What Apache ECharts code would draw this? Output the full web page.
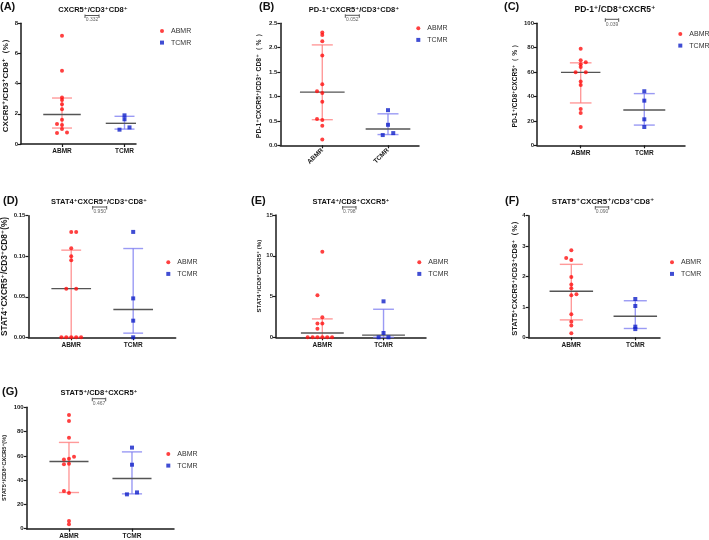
<!DOCTYPE html>
<html><head><meta charset="utf-8">
<script src="https://cdn.jsdelivr.net/npm/echarts@6/dist/echarts.min.js"></script>
<style>html,body{margin:0;padding:0;background:#fff}#c{width:709px;height:540px}</style>
</head><body><div id="c"></div>
<script>
// ---------------- data ----------------
const groups = ['ABMR', 'TCMR'];
const panelLetters = ['(A)', '(B)', '(C)', '(D)', '(E)', '(F)', '(G)'];
const titles = ['CXCR5⁺/CD3⁺CD8⁺', 'PD-1⁺CXCR5⁺/CD3⁺CD8⁺', 'PD-1⁺/CD8⁺CXCR5⁺',
  'STAT4⁺CXCR5⁺/CD3⁺CD8⁺', 'STAT4⁺/CD8⁺CXCR5⁺', 'STAT5⁺CXCR5⁺/CD3⁺CD8⁺', 'STAT5⁺/CD8⁺CXCR5⁺'];
const yNames = ['CXCR5⁺/CD3⁺CD8⁺（%）', 'PD-1⁺CXCR5⁺/CD3⁺ CD8⁺（ % ）', 'PD-1⁺/CD8⁺CXCR5⁺（ % ）',
  'STAT4⁺CXCR5⁺/CD3⁺CD8⁺(%)', 'STAT4⁺/CD8⁺CXCR5⁺ (%)', 'STAT5⁺CXCR5⁺/CD3⁺CD8⁺（%）', 'STAT5⁺/CD8⁺CXCR5⁺(%)'];
const pValues = ['0.332', '0.052', '0.039', '0.950', '0.798', '0.090', '0.467'];
const yMax = [8, 2.5, 100, 0.15, 15, 4, 100];
const yStep = [2, 0.5, 20, 0.05, 5, 1, 20];
const yDecimals = [0, 1, 0, 2, 0, 0, 0];

const abmrA = [7.18, 4.86, 3.09, 2.92, 2.63, 2.30, 1.61, 1.33, 1.26, 0.99, 0.73, 0.77];
const tcmrA = [1.90, 1.64, 1.10, 0.95];
const abmrB = [2.31, 2.26, 2.13, 1.84, 1.25, 1.11, 1.07, 0.89, 0.54, 0.52, 0.40, 0.12];
const tcmrB = [0.72, 0.42, 0.25, 0.21];
const abmrC = [79.2, 69.7, 68.0, 66.4, 64.2, 59.8, 59.8, 52.2, 49.5, 29.8, 26.5, 15.0];
const tcmrC = [44.3, 36.6, 21.3, 15.0];
const abmrD = [0.13, 0.13, 0.11, 0.10, 0.095, 0.06, 0.06, 0, 0, 0, 0, 0];
const tcmrD = [0.13, 0.048, 0.0205, 0];
const abmrE = [10.5, 5.15, 2.45, 1.68, 1.68, 1.06, 0, 0, 0, 0, 0, 0];
const tcmrE = [4.41, 0.53, 0, 0];
const abmrF = [2.86, 2.61, 2.54, 1.98, 1.74, 1.61, 1.42, 1.38, 0.76, 0.51, 0.39, 0.13];
const tcmrF = [1.26, 1.03, 0.35, 0.27];
const abmrG = [93.7, 88.7, 75.0, 59.3, 57.7, 57.1, 53.5, 53.0, 31.0, 29.4, 6.3, 3.6];
const tcmrG = [66.8, 52.7, 29.9, 28.3];

// horizontal scatter slot of each point (jitter column)
const abmrSlotA = [0, 0, 0, 0, 0, 0, 0, -1, 0, 0, -1, 1];
const tcmrSlotA = [0, 0, 1, -1];
const abmrSlotB = [0, 0, 0, 0, 0, -1, 0, 0, -1, 0, 0, 0];
const tcmrSlotB = [0, 0, 1, -1];
const abmrSlotC = [0, 0, 1, 0, 0, -1, 1, 0, 0, 0, 0, 0];
const tcmrSlotC = [0, 0, 0, 0];
const abmrSlotD = [0, 1, 0, 0, 0, -1, 1, -2, -1, 0, 1, 2];
const tcmrSlotD = [0, 0, 0, 0];
const abmrSlotE = [0, -1, 0, -1, 0, -1, -3, -2, -1, 0, 1, 2];
const tcmrSlotE = [0, 0, -1, 1];
const abmrSlotF = [0, -1, 0, 0, 0, 0, 1, 0, 0, 0, 0, 0];
const tcmrSlotF = [0, 0, 0, 0];
const abmrSlotG = [0, 0, 0, 1, 0, -1, 0, -1, -1, 0, 0, 0];
const tcmrSlotG = [0, 0, 1, -1];

const abmrAll = [abmrA, abmrB, abmrC, abmrD, abmrE, abmrF, abmrG];
const tcmrAll = [tcmrA, tcmrB, tcmrC, tcmrD, tcmrE, tcmrF, tcmrG];
const abmrSlots = [abmrSlotA, abmrSlotB, abmrSlotC, abmrSlotD, abmrSlotE, abmrSlotF, abmrSlotG];
const tcmrSlots = [tcmrSlotA, tcmrSlotB, tcmrSlotC, tcmrSlotD, tcmrSlotE, tcmrSlotF, tcmrSlotG];

// ---------------- layout ----------------
const LAYOUT = [
  {grid:[21,23.3,115,120.7], xr:[0.344,2.184], title:[93,9.5], tf:7.5, letter:[0,7], br:[85,99,15.5], pY:20, leg:[162,31], gap:11.7, nf:8, med:[0.30,0.30], cap:[0.16,0.16], rot:0},
  {grid:[280.3,23.3,138.7,122], xr:[0.361,2.472], title:[354,9.5], tf:7.5, letter:[259,7], br:[345.3,359.3,15.3], pY:20, leg:[418.3,28.3], gap:17.3, nf:6.8, med:[0.34,0.34], cap:[0.16,0.16], rot:45},
  {grid:[537,23.3,148,122], xr:[0.313,2.64], title:[615,10], tf:8.5, letter:[504,6.5], br:[605.3,618.7,19.3], pY:24.7, leg:[680.3,34], gap:18.3, nf:6.6, med:[0.31,0.33], cap:[0.17,0.165], rot:0},
  {grid:[26.7,215.7,149,121.6], xr:[0.309,2.686], title:[99,202], tf:7.5, letter:[3,200.7], br:[92.7,106.7,207], pY:211.7, leg:[168.3,262.3], gap:19.4, nf:8.3, med:[0.32,0.32], cap:[0.16,0.16], rot:0},
  {grid:[276,215,150,122.3], xr:[0.243,2.694], title:[351,202], tf:7.5, letter:[251,200.7], br:[342.7,356,207], pY:211.7, leg:[419.3,262.3], gap:13.3, nf:6, med:[0.35,0.35], cap:[0.17,0.17], rot:0},
  {grid:[528.7,215.7,131.3,121.6], xr:[0.334,2.386], title:[603,202], tf:8, letter:[505,201], br:[595.3,608.7,207], pY:212, leg:[672,262.3], gap:10, nf:7.5, med:[0.34,0.34], cap:[0.18,0.18], rot:0},
  {grid:[26.7,407.3,147.3,121.4], xr:[0.329,2.667], title:[99,393], tf:7.5, letter:[2,392], br:[92.3,105.7,398.7], pY:403.3, leg:[168.3,454], gap:19.4, nf:5.6, med:[0.31,0.31], cap:[0.16,0.16], rot:0}
];
const JIT = 0.08;
const FONT = 'Arial, "Liberation Sans", "DejaVu Sans", sans-serif';
const RED = '#ff1010', BLUE = '#1020c8';
const RED_L = 'rgba(255,120,120,0.75)', BLUE_L = 'rgba(120,120,240,0.75)';
const AX = '#1a1a1a';

function quant(s, p) {
  const n = s.length; let pos = p * (n + 1);
  if (pos < 1) pos = 1; if (pos > n) pos = n;
  const lo = Math.floor(pos), f = pos - lo;
  return lo >= n ? s[n - 1] : s[lo - 1] + f * (s[lo] - s[lo - 1]);
}
function stats(arr) {
  const s = arr.slice().sort((a, b) => a - b);
  return [quant(s, 0.5), quant(s, 0.25), quant(s, 0.75)];
}

const grid = [], xAxis = [], yAxis = [], series = [], legend = [], graphic = [];
LAYOUT.forEach((L, i) => {
  grid.push({left: L.grid[0], top: L.grid[1], width: L.grid[2], height: L.grid[3]});
  xAxis.push({
    gridIndex: i, type: 'value', min: L.xr[0], max: L.xr[1],
    axisLine: {show: true, onZero: false, lineStyle: {color: AX, width: 1.5}},
    axisTick: {show: true, customValues: [1, 2], length: 3, lineStyle: {color: AX, width: 1.2}},
    axisLabel: {customValues: [1, 2], formatter: v => groups[Math.round(v) - 1], fontSize: 6.5, fontWeight: 'bold',
      color: AX, fontFamily: FONT, margin: 4, rotate: L.rot},
    splitLine: {show: false}
  });
  yAxis.push({
    gridIndex: i, type: 'value', min: 0, max: yMax[i], interval: yStep[i],
    axisLine: {show: true, lineStyle: {color: AX, width: 1.5}},
    axisTick: {show: true, length: 3, lineStyle: {color: AX, width: 1.2}},
    axisLabel: {formatter: v => v.toFixed(yDecimals[i]), fontSize: 6, fontWeight: 'bold', color: AX, fontFamily: FONT, margin: 3},
    splitLine: {show: false},
    name: yNames[i], nameLocation: 'middle', nameRotate: 90, nameGap: L.gap,
    nameTextStyle: {fontSize: L.nf, fontWeight: 'bold', color: AX, fontFamily: FONT}
  });
  const ab = abmrAll[i], tc = tcmrAll[i];
  const sA = stats(ab), sT = stats(tc);
  const cs = {med: L.med, cap: L.cap};
  series.push({
    type: 'custom', name: 'bars' + i, xAxisIndex: i, yAxisIndex: i, silent: true, z: 2,
    data: [[1, sA[0], sA[1], sA[2], 0], [2, sT[0], sT[1], sT[2], 1]],
    renderItem: function (params, api) {
      const g = api.value(4), x = api.value(0);
      const pm = api.coord([x, api.value(1)]), pl = api.coord([x, api.value(2)]), ph = api.coord([x, api.value(3)]);
      const mw = api.size([cs.med[g], 0])[0], cw = api.size([cs.cap[g], 0])[0];
      const c = params.coordSys;
      const cl = v => Math.max(c.x, Math.min(c.x + c.width, v));
      const light = g === 0 ? RED_L : BLUE_L;
      const st = {stroke: light, lineWidth: 1.4};
      return {type: 'group', children: [
        {type: 'line', shape: {x1: pl[0], y1: pl[1], x2: ph[0], y2: ph[1]}, style: st},
        {type: 'line', shape: {x1: cl(pl[0] - cw), y1: pl[1], x2: cl(pl[0] + cw), y2: pl[1]}, style: st},
        {type: 'line', shape: {x1: cl(ph[0] - cw), y1: ph[1], x2: cl(ph[0] + cw), y2: ph[1]}, style: st},
        {type: 'line', shape: {x1: cl(pm[0] - mw), y1: pm[1], x2: cl(pm[0] + mw), y2: pm[1]}, style: {stroke: '#555', lineWidth: 1.4}}
      ]};
    }
  });
  series.push({
    type: 'scatter', name: 'ABMR', xAxisIndex: i, yAxisIndex: i, symbol: 'circle', symbolSize: 4, z: 3,
    itemStyle: {color: RED}, data: ab.map((v, k) => [1 + abmrSlots[i][k] * JIT, v])
  });
  series.push({
    type: 'scatter', name: 'TCMR', xAxisIndex: i, yAxisIndex: i, symbol: 'rect', symbolSize: 4, z: 3,
    itemStyle: {color: BLUE}, data: tc.map((v, k) => [2 + tcmrSlots[i][k] * JIT, v])
  });
  legend.push({
    data: [{name: 'ABMR', icon: 'circle'}, {name: 'TCMR', icon: 'rect'}], orient: 'vertical',
    left: L.leg[0] - 2, top: L.leg[1] - 4, padding: 0,
    itemWidth: 4, itemHeight: 4, itemGap: 3.6, selectedMode: false,
    textStyle: {fontSize: 7, color: '#333', fontFamily: FONT, lineHeight: 8, padding: [0, 0, 0, 2]}
  });
  graphic.push(
    {type: 'text', x: L.letter[0], y: L.letter[1], style: {text: panelLetters[i], font: 'bold 11px ' + FONT, fill: '#111', align: 'left', verticalAlign: 'middle'}},
    {type: 'text', x: L.title[0], y: L.title[1], style: {text: titles[i], font: 'bold ' + L.tf + 'px ' + FONT, fill: '#111', align: 'center', verticalAlign: 'middle'}},
    {type: 'line', shape: {x1: L.br[0], y1: L.br[2], x2: L.br[1], y2: L.br[2]}, style: {stroke: '#555', lineWidth: 1}},
    {type: 'line', shape: {x1: L.br[0], y1: L.br[2] - 1, x2: L.br[0], y2: L.br[2] + 2.5}, style: {stroke: '#555', lineWidth: 1}},
    {type: 'line', shape: {x1: L.br[1], y1: L.br[2] - 1, x2: L.br[1], y2: L.br[2] + 2.5}, style: {stroke: '#555', lineWidth: 1}},
    {type: 'text', x: (L.br[0] + L.br[1]) / 2, y: L.pY, style: {text: pValues[i], font: '5px ' + FONT, fill: '#666', align: 'center', verticalAlign: 'middle'}}
  );
});

const chart = echarts.init(document.getElementById('c'), null, {renderer: 'canvas'});
chart.setOption({animation: false, backgroundColor: '#fff', grid, xAxis, yAxis, series, legend, graphic});
</script>
</body></html>
